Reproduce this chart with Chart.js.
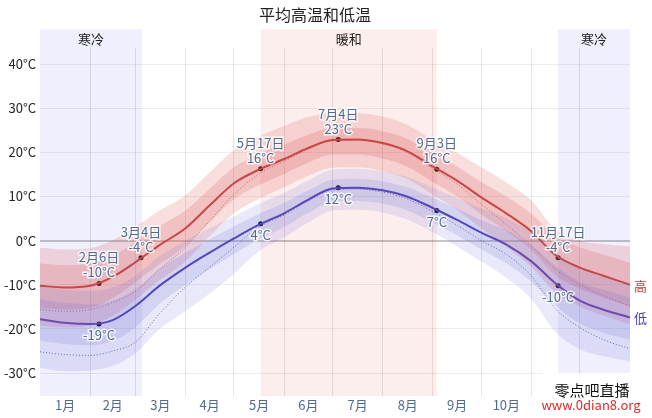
<!DOCTYPE html>
<html>
<head>
<meta charset="utf-8">
<script src="https://cdn.jsdelivr.net/npm/chart.js@4.4.1/dist/chart.umd.min.js"></script>
<style>
  html, body { margin: 0; padding: 0; background: #fff; }
  #wrap { width: 652px; height: 418px; }
</style>
</head>
<body>
<div id="wrap"><canvas id="myChart"></canvas></div>
<script>
// day of year for each sample
const days = [0,15,31,45,59,74,90,105,120,135,151,166,181,196,212,227,243,258,273,288,304,319,334,349,365];

// average daily high / low (°C)
const high = [-10.2,-10.6,-10.2,-8.2,-4.9,-1.0,2.8,8.0,13.0,16.0,18.5,21.0,22.8,22.9,22.1,20.3,16.8,13.6,9.8,6.3,2.1,-3.3,-6.1,-8.0,-10.0];
const low  = [-17.8,-18.6,-18.9,-18.0,-14.8,-10.2,-6.1,-2.7,0.5,3.5,6.2,9.3,11.8,12.0,11.4,10.0,7.4,4.7,1.8,-0.8,-4.7,-9.7,-13.6,-15.7,-17.4];

// percentile bands of the high
const high90 = [-1.6,-2.0,-1.7,0.1,3.1,6.8,10.3,15.5,20.5,23.5,26.0,28.0,29.0,28.9,28.1,26.3,22.8,19.9,16.6,13.3,9.1,2.5,0.0,-0.8,-1.3];
const high75 = [-5.2,-5.6,-5.2,-3.4,-0.4,3.3,6.8,11.8,16.6,19.5,21.8,24.0,25.5,25.5,24.8,23.1,19.8,16.8,13.3,10.1,6.1,1.0,-1.5,-3.2,-5.0];
const high25 = [-15.2,-15.6,-15.2,-13.0,-9.4,-5.3,-1.2,4.2,9.4,12.5,15.1,17.7,19.5,19.5,18.6,16.8,13.3,10.0,6.0,2.3,-2.2,-7.9,-10.9,-13.0,-15.0];
const high10 = [-19.2,-19.6,-19.2,-17.0,-13.4,-9.0,-4.7,1.0,6.2,9.4,12.1,14.7,16.5,16.6,15.8,14.0,10.4,7.0,2.8,-1.2,-5.9,-11.8,-14.9,-17.0,-19.0];

// percentile bands of the low
const low90 = [-10.3,-11.1,-11.4,-10.6,-8.0,-3.5,0.0,2.8,5.5,8.3,10.8,13.7,16.1,16.3,15.7,14.4,12.0,9.7,7.3,5.2,1.8,-2.7,-6.3,-8.2,-9.9];
const low75 = [-13.3,-14.1,-14.4,-13.6,-11.0,-6.4,-2.8,0.3,3.2,6.0,8.5,11.4,13.8,14.0,13.4,12.1,9.7,7.2,4.6,2.4,-1.1,-5.7,-9.3,-11.2,-12.9];
const low25 = [-22.6,-23.4,-23.7,-22.7,-19.6,-14.3,-10.0,-6.4,-3.0,0.2,3.1,6.3,8.8,9.0,8.4,6.9,4.1,1.2,-2.0,-5.0,-9.3,-14.7,-18.8,-20.9,-22.4];
const low10 = [-28.8,-29.6,-29.4,-28.4,-25.5,-20.0,-16.0,-12.0,-7.5,-2.5,0.7,4.1,6.8,7.0,6.4,4.8,1.9,-1.3,-4.7,-8.3,-13.2,-20.7,-24.6,-26.2,-27.4];

// perceived (feels like) high / low, dotted
const highFeel = [-15.6,-16.0,-15.6,-14.0,-11.5,-6.5,-1.5,4.5,10.5,15.0,18.0,20.7,22.6,22.7,21.9,20.0,16.3,12.8,8.3,3.8,-1.2,-6.5,-10.0,-12.5,-14.8];
const lowFeel  = [-25.2,-25.8,-26.0,-25.0,-23.0,-16.5,-10.5,-6.0,-1.5,3.0,5.8,9.0,11.5,11.7,11.0,9.5,6.6,3.5,0.0,-3.0,-8.0,-15.5,-19.7,-22.5,-24.5];

// marked days
const highNoteDays  = [36.5,62.5,136.5,184.5,245.5,320.5];
const highNoteTemps = [-9.7,-3.9,16.3,22.9,16.2,-3.9];
const highNoteDates = ['2月6日','3月4日','5月17日','7月4日','9月3日','11月17日'];
const lowNoteDays   = [36.5,136.5,184.5,245.5,320.5];
const lowNoteTemps  = [-18.9,3.8,12.0,6.8,-10.2];

// seasons
const seasonNames = ['寒冷','暖和','寒冷'];
const seasonStart = [0,136.5,320.5];
const seasonEnd   = [63,245.5,365];
const seasonColor = ['#efeffd','#fdeeee','#efeffd'];

// axes
const monthStarts = [31,59,90,120,151,181,212,243,273,304,334];
const monthMids   = [15.5,45,74.5,105,135.5,166,196.5,227.5,258,288.5,319,349.5];
const monthLabels = ['1月','2月','3月','4月','5月','6月','7月','8月','9月','10月','11月','12月'];
const yTicks = [-30,-20,-10,0,10,20,30,40];

const FONT = '"Noto Sans CJK SC", "Noto Sans", sans-serif';
const NOTE_COLOR = '#4f6b8f';

function pts(arr) {
    return days.map((d, i) => ({x: d, y: arr[i]}));
}

function band(arr, fillTarget, color) {
    return {
        data: pts(arr),
        borderWidth: 0,
        pointRadius: 0,
        cubicInterpolationMode: 'monotone',
        fill: fillTarget === null ? false : {target: fillTarget},
        backgroundColor: color
    };
}

const seasonPlugin = {
    id: 'seasons',
    beforeDraw(chart) {
        const {ctx, chartArea, scales} = chart;
        const x = scales.x;
        const top = chartArea.top - 19;
        ctx.save();
        for (let i = 0; i < seasonNames.length; i++) {
            const x0 = x.getPixelForValue(seasonStart[i]);
            const x1 = x.getPixelForValue(seasonEnd[i]);
            ctx.fillStyle = seasonColor[i];
            ctx.fillRect(x0, top, x1 - x0, chartArea.bottom - top);
            ctx.fillStyle = '#222';
            ctx.font = '13px ' + FONT;
            ctx.textAlign = 'center';
            ctx.textBaseline = 'middle';
            ctx.fillText(seasonNames[i], (x0 + x1) / 2, chartArea.top - 9);
        }
        ctx.restore();
    }
};

function haloText(ctx, text, x, y) {
    ctx.strokeText(text, x, y);
    ctx.fillText(text, x, y);
}

const notePlugin = {
    id: 'notes',
    afterDatasetsDraw(chart) {
        const {ctx, chartArea} = chart;
        ctx.save();
        ctx.font = '13px ' + FONT;
        ctx.textAlign = 'center';
        ctx.textBaseline = 'middle';
        ctx.lineWidth = 3;
        ctx.strokeStyle = 'rgba(255,255,255,0.8)';
        ctx.fillStyle = NOTE_COLOR;

        const hiMeta = chart.getDatasetMeta(10);
        hiMeta.data.forEach((p, i) => {
            haloText(ctx, highNoteDates[i], p.x, p.y - 26);
            haloText(ctx, Math.round(highNoteTemps[i]) + '°C', p.x, p.y - 11);
        });
        const loMeta = chart.getDatasetMeta(11);
        loMeta.data.forEach((p, i) => {
            haloText(ctx, Math.round(lowNoteTemps[i]) + '°C', p.x, p.y + 11);
        });

        // series names at the right end
        const hiLine = chart.getDatasetMeta(8).data;
        const loLine = chart.getDatasetMeta(9).data;
        ctx.textAlign = 'left';
        ctx.fillStyle = '#c03c3c';
        ctx.fillText('高', chartArea.right + 4, hiLine[hiLine.length - 1].y + 1);
        ctx.fillStyle = '#4b3cb4';
        ctx.fillText('低', chartArea.right + 4, loLine[loLine.length - 1].y + 1);
        ctx.restore();
    },
    afterDraw(chart) {
        const ctx = chart.ctx;
        ctx.save();
        ctx.fillStyle = '#fff';
        ctx.fillRect(543, 373, 109, 45);
        ctx.textAlign = 'center';
        ctx.textBaseline = 'middle';
        ctx.fillStyle = '#111';
        ctx.font = '15px ' + FONT;
        ctx.fillText('零点吧直播', 592, 390);
        ctx.fillStyle = '#e02828';
        ctx.font = '13px ' + FONT;
        ctx.fillText('www.0dian8.org', 591, 405);
        ctx.restore();
    }
};

document.addEventListener("DOMContentLoaded", function () {
    const ctx = document.getElementById('myChart').getContext('2d');

    new Chart(ctx, {
        type: 'line',
        data: {
            datasets: [
                band(low90, 3, 'rgba(110,110,215,0.15)'), // 0
                band(low75, 2, 'rgba(100,100,210,0.17)'), // 1
                band(low25, null, 'transparent'),         // 2
                band(low10, null, 'transparent'),         // 3
                band(high90, 7, 'rgba(225,90,90,0.2)'),   // 4
                band(high75, 6, 'rgba(215,85,85,0.22)'),  // 5
                band(high25, null, 'transparent'),        // 6
                band(high10, null, 'transparent'),        // 7
                {   // 8 high
                    data: pts(high),
                    borderColor: '#c03c3c',
                    borderWidth: 2,
                    pointRadius: 0,
                    cubicInterpolationMode: 'monotone',
                    fill: false
                },
                {   // 9 low
                    data: pts(low),
                    borderColor: '#4b3cb4',
                    borderWidth: 2,
                    pointRadius: 0,
                    cubicInterpolationMode: 'monotone',
                    fill: false
                },
                {   // 10 high notes
                    data: highNoteDays.map((d, i) => ({x: d, y: highNoteTemps[i]})),
                    showLine: false,
                    pointRadius: 2.5,
                    pointBackgroundColor: '#000',
                    pointBorderWidth: 0
                },
                {   // 11 low notes
                    data: lowNoteDays.map((d, i) => ({x: d, y: lowNoteTemps[i]})),
                    showLine: false,
                    pointRadius: 2.5,
                    pointBackgroundColor: '#000',
                    pointBorderWidth: 0
                },
                {   // 12 feels-like high
                    data: pts(highFeel),
                    borderColor: 'rgba(170,60,60,0.75)',
                    borderWidth: 1,
                    borderDash: [1, 2],
                    pointRadius: 0,
                    cubicInterpolationMode: 'monotone',
                    fill: false
                },
                {   // 13 feels-like low
                    data: pts(lowFeel),
                    borderColor: 'rgba(60,60,150,0.75)',
                    borderWidth: 1,
                    borderDash: [1, 2],
                    pointRadius: 0,
                    cubicInterpolationMode: 'monotone',
                    fill: false
                }
            ]
        },
        options: {
            responsive: true,
            maintainAspectRatio: false,
            animation: false,
            events: [],
            layout: {padding: {left: 0, right: 22, top: 0, bottom: 0}},
            plugins: {
                legend: {display: false},
                tooltip: {enabled: false},
                title: {
                    display: true,
                    text: '平均高温和低温',
                    color: '#222',
                    font: {family: FONT, size: 16, weight: 'normal'},
                    padding: {top: 5, bottom: 24}
                }
            },
            scales: {
                x: {
                    type: 'linear',
                    min: 0,
                    max: 365,
                    afterBuildTicks: (s) => { s.ticks = monthStarts.map(v => ({value: v})); },
                    afterFit: (s) => { s.height = 0; },
                    ticks: {display: false},
                    grid: {color: 'rgba(0,0,0,0.1)', drawTicks: false},
                    border: {display: false}
                },
                x2: {
                    type: 'linear',
                    position: 'bottom',
                    min: 0,
                    max: 365,
                    afterBuildTicks: (s) => { s.ticks = monthMids.map(v => ({value: v})); },
                    afterFit: (s) => { s.height = 22; },
                    ticks: {
                        color: '#4f6b8f',
                        font: {family: FONT, size: 13},
                        padding: 1,
                        maxRotation: 0,
                        autoSkip: false,
                        callback: (v, i) => monthLabels[i]
                    },
                    grid: {display: false, drawTicks: false},
                    border: {display: false}
                },
                y: {
                    min: -35.2,
                    max: 43.6,
                    afterBuildTicks: (s) => { s.ticks = yTicks.map(v => ({value: v})); },
                    afterFit: (s) => { s.width = 40; },
                    ticks: {
                        color: '#222',
                        font: {family: FONT, size: 13},
                        padding: 4,
                        callback: (v) => v + '°C'
                    },
                    grid: {
                        drawTicks: false,
                        color: (c) => c.tick && c.tick.value === 0 ? 'rgba(0,0,0,0.22)' : 'rgba(0,0,0,0.07)',
                        lineWidth: (c) => c.tick && c.tick.value === 0 ? 2 : 1
                    },
                    border: {display: false}
                }
            }
        },
        plugins: [seasonPlugin, notePlugin]
    });
});
</script>
</body>
</html>
